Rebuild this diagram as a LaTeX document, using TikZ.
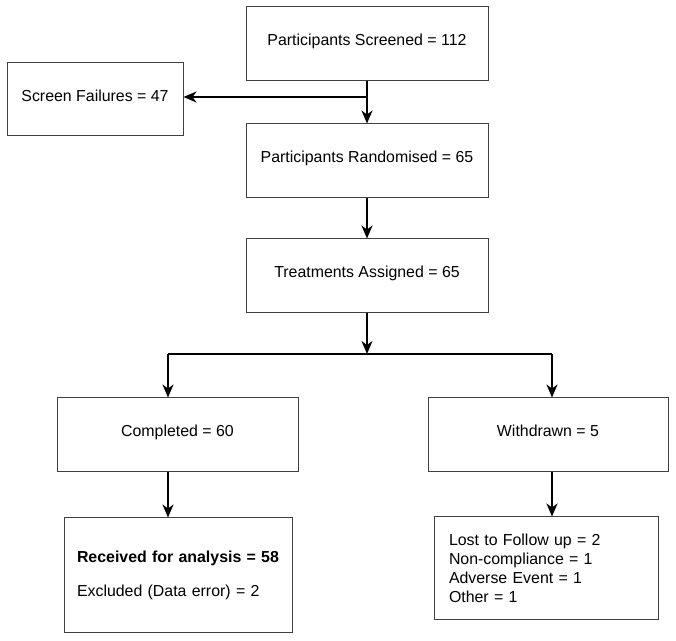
\documentclass[tikz,border=0pt]{standalone}
\usepackage{fontspec}
\setmainfont{Liberation Sans}
\usepackage{tikz}
\usetikzlibrary{arrows.meta}

\begin{document}
\begin{tikzpicture}[x=0.5pt, y=-0.5pt,
		every node/.style = {font=\fontsize{7.95}{9.5}\selectfont},
		box/.style = {draw = black!75, line width=0.5pt, rectangle, inner sep=0pt, minimum height=37pt},
		onebox/.style = {box, text height=6pt, text depth=4pt},
		flow/.style = {-{Stealth[length=6.5pt, width=5.5pt, inset=2pt]}, line width=1pt}]
	\useasboundingbox (0,0) rectangle (676,641);
	\node[onebox, minimum width = 121pt] (scr) at (367,44) {Participants Screened = 112};
	\node[onebox, minimum width = 88pt, minimum height=36.5pt] (fail) at (95,99.5) {Screen Failures = 47};
	\node[onebox, minimum width = 121pt] (rand) at (367,161) {Participants Randomised = 65};
	\node[onebox, minimum width = 121pt] (asg) at (367,276) {Treatments Assigned = 65};
	\node[onebox, minimum width = 120.5pt] (comp) at (177.5,435) {Completed = 60};
	\node[onebox, minimum width = 120pt] (wd) at (548,435) {Withdrawn = 5};
	\node[box, minimum width = 114pt, minimum height = 57.5pt, align = left, text width = 101pt, inner xsep = 6.5pt] (recv) at (178,575.5)
		{\textbf{Received for analysis = 58}\\[7.5pt]Excluded (Data error) = 2};
	\node[box, minimum width = 112pt, minimum height = 51.5pt, align = left, text width = 97pt, inner xsep = 7.5pt, xshift = 0.5pt] (lost) at (545,568.5)
		{Lost to Follow up = 2\\Non-compliance = 1\\Adverse Event = 1\\Other = 1};
	% junctions
	\coordinate (split) at (367,97);
	\coordinate (fork) at (367,354);
	\coordinate (lf) at (168,354);
	\coordinate (rf) at (552,354);
	\draw[flow] (scr) -- (rand);
	\draw[flow] (split) -- (split -| fail.east);
	\draw[flow] (rand) -- (asg);
	\draw[flow] (asg) -- (fork);
	\draw[line width=1pt] (lf) -- (rf);
	\draw[flow] (lf) -- (lf |- comp.north);
	\draw[flow] (rf) -- (rf |- wd.north);
	\draw[flow] (lf |- comp.south) -- (lf |- recv.north);
	\draw[flow] (rf |- wd.south) -- (rf |- lost.north);
\end{tikzpicture}
\end{document}
